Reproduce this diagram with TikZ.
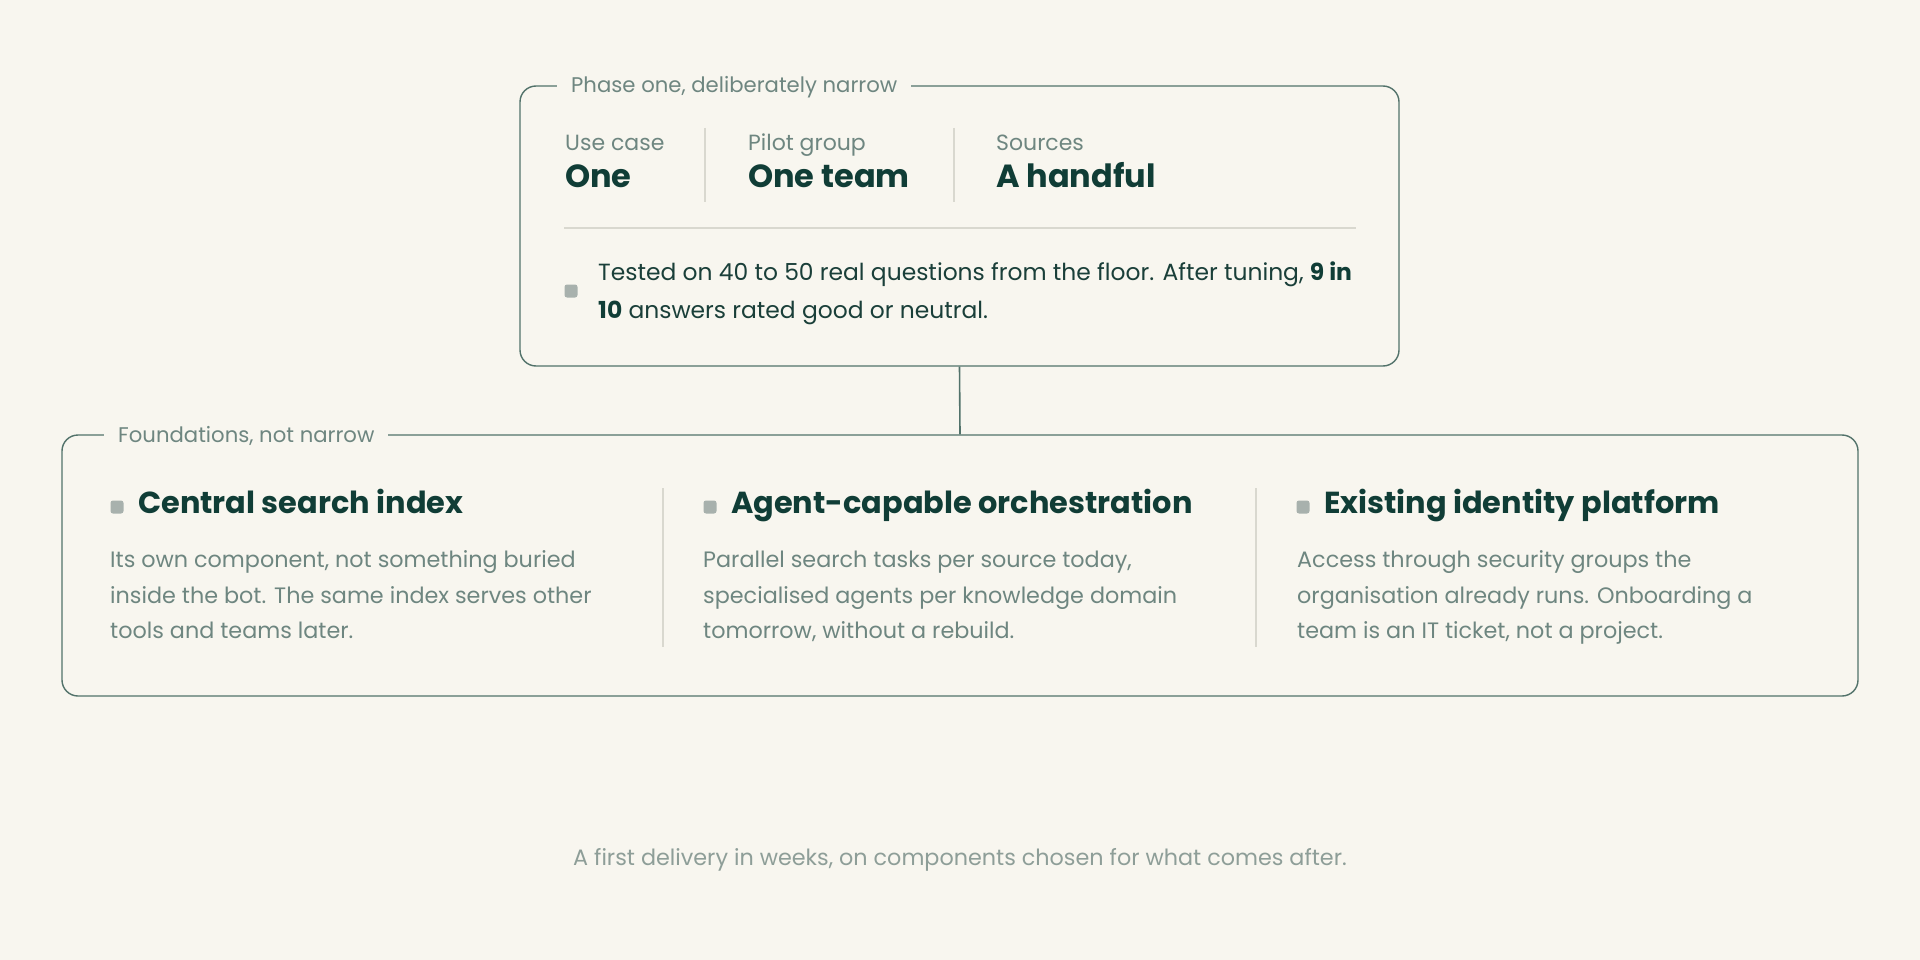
\documentclass[tikz,border=0pt]{standalone}
\usepackage{fontspec}
\setmainfont{Poppins}
\definecolor{bg}{HTML}{F8F6EF}
\definecolor{ink}{HTML}{103D36}
\definecolor{inkbody}{HTML}{1A3F39}
\definecolor{muted}{HTML}{6E8680}
\definecolor{frame}{HTML}{52726A}
\definecolor{rule}{HTML}{D9D8CF}
\definecolor{dot}{HTML}{A8B1AD}
\definecolor{foot}{HTML}{8E9E98}
\tikzset{
  x=1pt, y=-1pt,
  panel/.style={draw=frame, line width=1.4pt, rounded corners=16pt, inner sep=0pt},
  paneltitle/.style={anchor=base west, fill=bg, inner xsep=14pt, inner ysep=2pt, text=muted, font=\fontsize{21.2}{25}\selectfont},
  lbl/.style={anchor=base west, inner sep=0pt, text=muted, font=\fontsize{22}{27}\selectfont},
  val/.style={anchor=base west, inner sep=0pt, text=ink, font=\fontsize{32}{38}\selectfont\bfseries},
  tbody/.style={anchor=base west, inner sep=0pt, text=inkbody, font=\fontsize{23.4}{38}\selectfont},
  head/.style={anchor=base west, inner sep=0pt, text=ink, font=\fontsize{30.4}{36}\selectfont\bfseries},
  bbody/.style={anchor=base west, inner sep=0pt, text=muted, font=\fontsize{22.3}{35}\selectfont},
  divider/.style={draw=rule, line width=2pt},
  bullet/.style={fill=dot, draw=none, rounded corners=2.5pt, minimum width=13pt, minimum height=13pt, inner sep=0pt},
  conn/.style={draw=frame, line width=1.6pt},
}
\begin{document}
\begin{tikzpicture}
\fill[bg] (0,0) rectangle (1920,960);
\useasboundingbox (0,0) rectangle (1920,960);

% top panel
\node[panel, minimum width=879pt, minimum height=280pt] (phase) at (959.5,226) {};
\node[paneltitle] (phasetitle) at (557,93) {Phase one, deliberately narrow};

\node[lbl] (uclbl) at (565,151) {Use case};
\node[val] (ucval) at (565,188) {One};
\node[lbl] (pglbl) at (748,151) {Pilot group};
\node[val] (pgval) at (748,188) {One team};
\node[lbl] (srclbl) at (996,151) {Sources};
\node[val] (srcval) at (996,188) {A handful};
\coordinate (d1a) at (705,128); \coordinate (d1b) at (705,202);
\coordinate (d2a) at (954,128); \coordinate (d2b) at (954,202);
\draw[divider] (d1a) -- (d1b);
\draw[divider] (d2a) -- (d2b);
\coordinate (hra) at (564,228); \coordinate (hrb) at (1356,228);
\draw[divider] (hra) -- (hrb);

\node[bullet] (tb) at (571,291) {};
\node[tbody] (tl1) at (598,280) {Tested on 40 to 50 real questions from the floor. After tuning, \textbf{\color{ink}9 in}};
\node[tbody] (tl2) at (598,318) {\textbf{\color{ink}10} answers rated good or neutral.};

% bottom panel
\node[panel, minimum width=1796pt, minimum height=261pt] (found) at (960,565.5) {};
\node[paneltitle] (foundtitle) at (104,442) {Foundations, not narrow};

\draw[conn] (phase.south) -- (found.north);

% column 1
\node[bullet] (b1) at (117,507) {};
\node[head] (h1) at (138,513) {Central search index};
\node[bbody] (c1l1) at (110,567) {Its own component, not something buried};
\node[bbody] (c1l2) at (110,603) {inside the bot. The same index serves other};
\node[bbody] (c1l3) at (110,638) {tools and teams later.};
\coordinate (v1a) at (663,488); \coordinate (v1b) at (663,647);
\draw[divider] (v1a) -- (v1b);

% column 2
\node[bullet] (b2) at (710,507) {};
\node[head] (h2) at (731,513) {Agent-capable orchestration};
\node[bbody] (c2l1) at (703,567) {Parallel search tasks per source today,};
\node[bbody] (c2l2) at (703,603) {specialised agents per knowledge domain};
\node[bbody] (c2l3) at (703,638) {tomorrow, without a rebuild.};
\coordinate (v2a) at (1256,488); \coordinate (v2b) at (1256,647);
\draw[divider] (v2a) -- (v2b);

% column 3
\node[bullet] (b3) at (1303,507) {};
\node[head] (h3) at (1324,513) {Existing identity platform};
\node[bbody] (c3l1) at (1297,567) {Access through security groups the};
\node[bbody] (c3l2) at (1297,603) {organisation already runs. Onboarding a};
\node[bbody] (c3l3) at (1297,638) {team is an IT ticket, not a project.};

% footer
\node[anchor=base, inner sep=0pt, text=foot, font=\fontsize{22.3}{27}\selectfont] (footer) at (960,865) {A first delivery in weeks, on components chosen for what comes after.};
\end{tikzpicture}
\end{document}
